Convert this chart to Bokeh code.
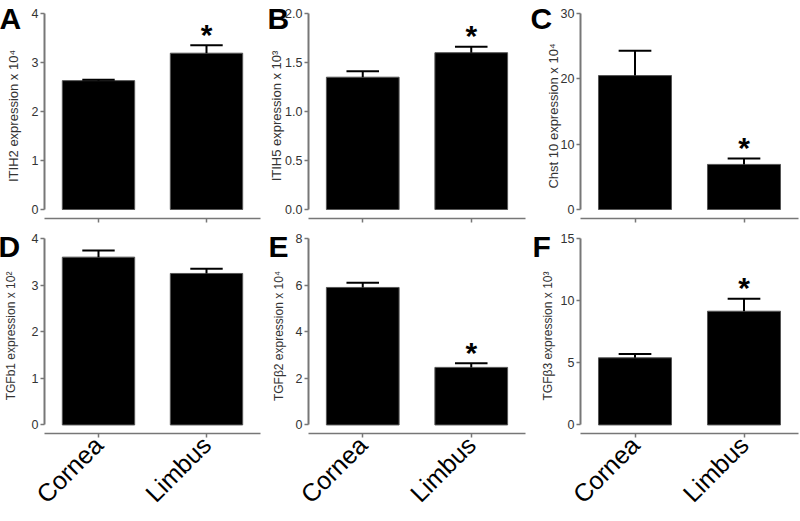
import math
from bokeh.plotting import figure
from bokeh.models import Range1d, FixedTicker, Title, CustomLabelingPolicy
from bokeh.layouts import column, row
from bokeh.embed import file_html
from bokeh.resources import INLINE
from bokeh.core.properties import value

# ---------------- data ----------------
categories = ["Cornea", "Limbus"]
x_pos = [0.5, 1.5]

itih2 = [2.63, 3.19]
itih2_err = [0.02, 0.16]
itih5 = [1.35, 1.60]
itih5_err = [0.06, 0.06]
chst10 = [20.5, 6.9]
chst10_err = [3.8, 0.9]
tgfb1 = [3.60, 3.25]
tgfb1_err = [0.14, 0.10]
tgfb2 = [5.90, 2.47]
tgfb2_err = [0.20, 0.18]
tgfb3 = [5.40, 9.15]
tgfb3_err = [0.30, 1.00]

sig_A = [False, True]
sig_B = [False, True]
sig_C = [False, True]
sig_D = [False, False]
sig_E = [False, True]
sig_F = [False, True]

ticks_A = [0, 1, 2, 3, 4]
ticks_B = [0.0, 0.5, 1.0, 1.5, 2.0]
ticks_C = [0, 10, 20, 30]
ticks_D = [0, 1, 2, 3, 4]
ticks_E = [0, 2, 4, 6, 8]
ticks_F = [0, 5, 10, 15]

labels = ["ITIH2 expression x 10\u2074", "ITIH5 expression x 10\u00b3",
          "Chst 10 expression x 10\u2074", "TGFb1 expression x 10\u00b2",
          "TGF\u03b22 expression x 10\u2074", "TGF\u03b23 expression x 10\u00b3"]
letters = ["A", "B", "C", "D", "E", "F"]

FONT = "Liberation Sans"
AX = "#777777"
TXT = "#333333"

# ---------------- geometry (px) ----------------
col_w = [265, 265, 270]
col_bl = [44, 43, 50]
col_br = [5, 5, 2]
row_h = [228, 293]
row_bt = [13, 10]
row_bb = [10, 76]
label_standoff = [8, -2, -3, 11, 7, 3]
letter_offset = [-45, -41, -50, -46, -40, -48]
letter_base = [28, 28]        # baseline of panel letter, from top of its row
LETTER_PX = 30


def make_panel(i, vals, errs, sig, ticks, fmt_dec):
    c = i % 3
    r = i // 3
    ymax = ticks[-1]
    offset = 9.0 / 196.0 * ymax
    descent = 0.212 * LETTER_PX
    standoff = -2.0 * (letter_base[r] + descent - row_bt[r])
    title = Title(text=letters[i], align="left", vertical_align="bottom",
                  offset=letter_offset[i], standoff=standoff,
                  text_font=FONT, text_font_style="bold",
                  text_font_size="%dpx" % LETTER_PX, text_color="black")
    p = figure(width=col_w[c], height=row_h[r], output_backend="svg",
               toolbar_location=None, tools="", title=title,
               x_range=Range1d(0, 2), y_range=Range1d(-offset, ymax),
               min_border_left=col_bl[c], min_border_right=col_br[c],
               min_border_top=row_bt[r], min_border_bottom=row_bb[r])
    p.outline_line_color = None
    p.grid.visible = False
    p.background_fill_color = "white"
    p.border_fill_color = "white"

    upper = [v + e for v, e in zip(vals, errs)]
    p.vbar(x=x_pos, top=vals, bottom=0, width=0.67,
           fill_color="black", line_color="#555555", line_width=1)
    p.segment(x0=x_pos, y0=vals, x1=x_pos, y1=upper, line_color="black", line_width=2)
    p.segment(x0=[x - 0.15 for x in x_pos], y0=upper,
              x1=[x + 0.15 for x in x_pos], y1=upper,
              line_color="black", line_width=2)

    sx = [x for x, s in zip(x_pos, sig) if s]
    sy = [u for u, s in zip(upper, sig) if s]
    if sx:
        p.text(x=sx, y=sy, text=["*"] * len(sx), text_font=value(FONT),
               text_font_style="bold", text_font_size="30px",
               text_align="center", text_baseline="alphabetic",
               text_color="black", y_offset=-11)

    # y axis
    ya = p.yaxis[0]
    ya.bounds = (0, ymax)
    ya.ticker = FixedTicker(ticks=ticks)
    ya.minor_tick_line_color = None
    ya.major_tick_in = 0
    ya.major_tick_out = 4
    ya.axis_line_color = AX
    ya.axis_line_width = 2
    ya.major_tick_line_color = AX
    ya.major_tick_line_width = 1.5
    ya.major_label_text_font = FONT
    ya.major_label_text_font_size = "12.5px"
    ya.major_label_text_color = TXT
    ya.major_label_standoff = 2
    if fmt_dec:
        ya.major_label_overrides = {t: "%.1f" % t for t in ticks}
    else:
        ya.major_label_overrides = {t: "%d" % t for t in ticks}
    ya.axis_label = labels[i]
    ya.axis_label_text_font = FONT
    ya.axis_label_text_font_style = "normal"
    ya.axis_label_text_font_size = "13px" if r == 0 else "12px"
    ya.axis_label_text_color = TXT
    ya.axis_label_standoff = label_standoff[i]

    # x axis
    xa = p.xaxis[0]
    xa.ticker = FixedTicker(ticks=x_pos)
    xa.minor_tick_line_color = None
    xa.major_tick_in = 0
    xa.major_tick_out = 4
    xa.axis_line_color = AX
    xa.axis_line_width = 1.5
    xa.major_tick_line_color = AX
    xa.major_tick_line_width = 1.5
    xa.major_label_overrides = {x: cat for x, cat in zip(x_pos, categories)}
    xa.major_label_text_font = FONT
    if r == 0:
        xa.major_label_policy = CustomLabelingPolicy(code="return []")
        xa.major_label_text_font_size = "1px"
        xa.major_label_standoff = 0
    else:
        xa.major_label_text_font_size = "25px"
        xa.major_label_text_color = "black"
        xa.major_label_orientation = math.pi / 4
        xa.major_label_standoff = 3
    return p


pA = make_panel(0, itih2, itih2_err, sig_A, ticks_A, False)
pB = make_panel(1, itih5, itih5_err, sig_B, ticks_B, True)
pC = make_panel(2, chst10, chst10_err, sig_C, ticks_C, False)
pD = make_panel(3, tgfb1, tgfb1_err, sig_D, ticks_D, False)
pE = make_panel(4, tgfb2, tgfb2_err, sig_E, ticks_E, False)
pF = make_panel(5, tgfb3, tgfb3_err, sig_F, ticks_F, False)

layout = column(row(pA, pB, pC), row(pD, pE, pF))
open("out.html", "w").write(file_html(layout, INLINE))
